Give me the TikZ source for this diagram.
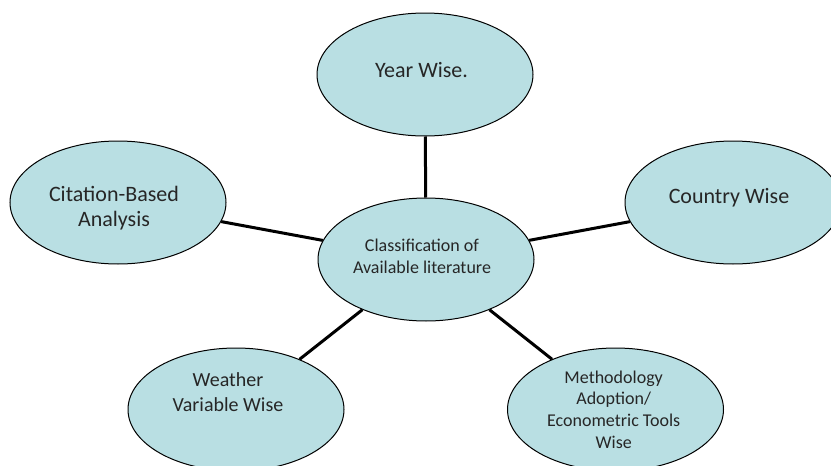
\documentclass[tikz,border=0pt]{standalone}
\usepackage{fontspec}
\setmainfont{Carlito}
\usetikzlibrary{shapes.geometric}
\definecolor{bubblefill}{RGB}{185,223,227}
\tikzset{
  bubble/.style={ellipse, draw=black, line width=1pt, fill=bubblefill,
    minimum width=216pt, minimum height=123pt, inner sep=0pt},
  spoke/.style={line width=3pt},
  lbl/.style={anchor=base, align=center, inner sep=0pt, text=black!85},
  bigtext/.style={font=\fontsize{22}{25}\selectfont},
  midtext/.style={font=\fontsize{20}{25}\selectfont},
  smalltext/.style={font=\fontsize{18}{21.7}\selectfont}
}

\begin{document}
\begin{tikzpicture}[x=1pt,y=-1pt]
  \useasboundingbox (0,0) rectangle (831,466);
  \clip (0,0) rectangle (831,466);
  % the six bubbles
  \node[bubble] (classif)  at (426,259.5) {};
  \node[bubble] (year)     at (425,74.5) {};
  \node[bubble] (country)  at (733,202.5) {};
  \node[bubble] (citation) at (118,202.5) {};
  \node[bubble] (weather)  at (236,409.5) {};
  \node[bubble] (method)   at (615.5,409.5) {};
  % spokes from the centre bubble
  \foreach \n in {year,country,citation,weather,method}
    \draw[spoke] (classif) -- (\n);
  % texts (base = last line)
  \node[lbl, smalltext] (classifTxt) at (422,273) {Classification of\\Available literature};
  \node[lbl, bigtext] (yearTxt) at (421.5,77) {Year Wise.};
  \node[lbl, bigtext] (countryTxt) at (729,203) {Country Wise};
  \node[lbl, bigtext] (citationTxt) at (114,226.7) {Citation-Based\\Analysis};
  \node[lbl, midtext] (weatherTxt) at (228,411.7) {Weather\\Variable Wise};
  \node[lbl, smalltext] (methodTxt) at (613.7,448.3) {Methodology\\Adoption/\\Econometric Tools\\Wise};
\end{tikzpicture}
\end{document}
